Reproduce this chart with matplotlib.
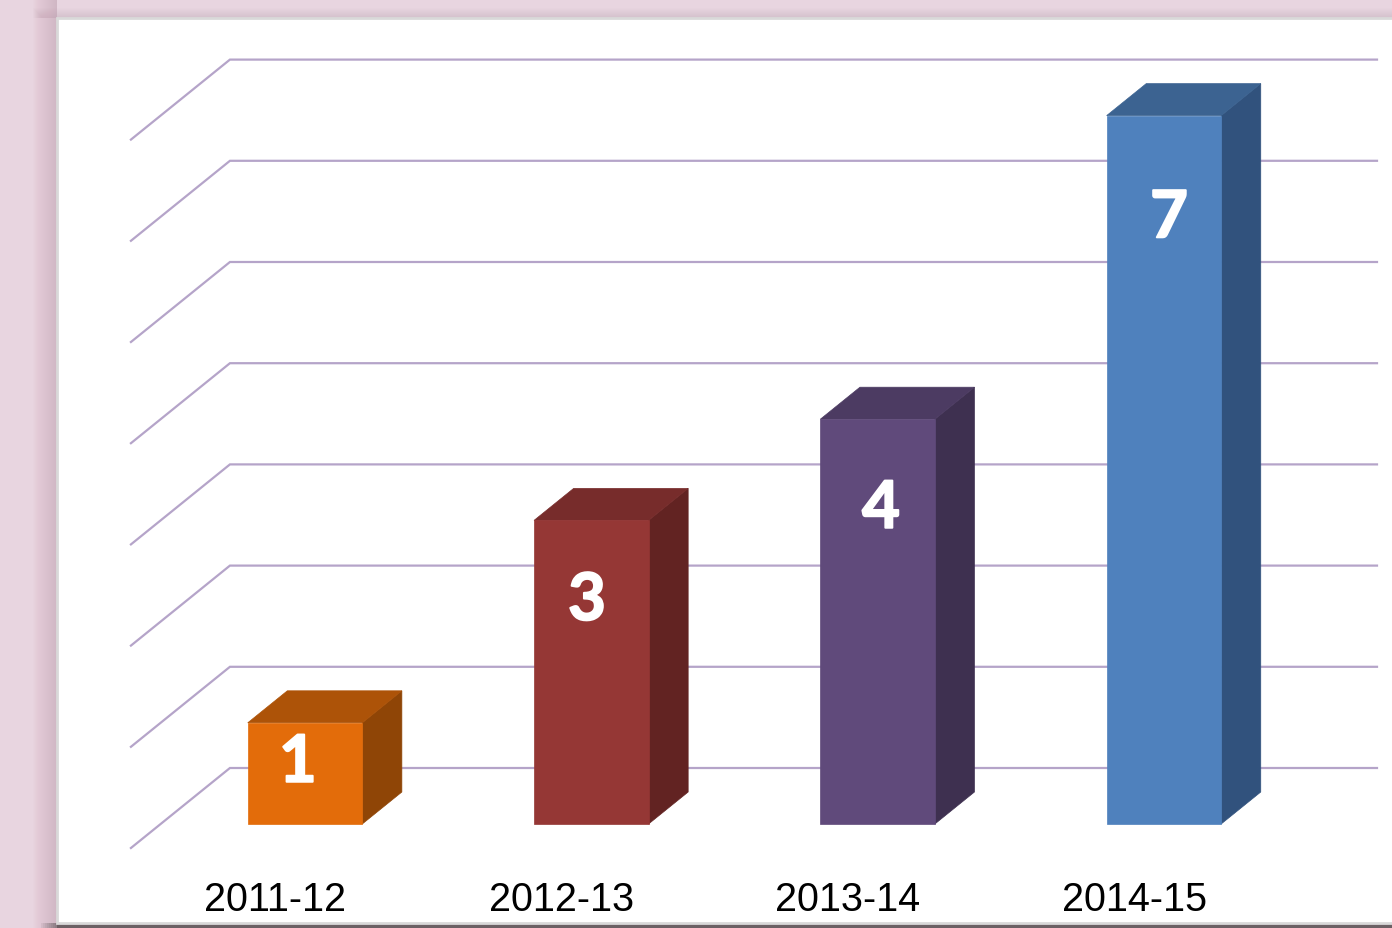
import matplotlib
matplotlib.use("Agg")
import matplotlib.pyplot as plt
import matplotlib.patheffects as pe
from matplotlib.patches import Polygon, Rectangle

# ---- data ----
categories = ["2011-12", "2012-13", "2013-14", "2014-15"]
values = [1, 3, 4, 7]
front_colors = ["#E36C0A", "#953735", "#604A7B", "#4F81BD"]
top_colors = ["#AD5308", "#772C2B", "#4C3B62", "#3C6391"]
side_colors = ["#8F4506", "#622322", "#3E3050", "#31527D"]
label_drop = [0.40, 0.80, 0.89, 1.02]   # label distance below bar top (value units)
label_shift = [-0.025, -0.015, 0.012, 0.018]  # small horizontal nudges (category units)
grid_levels = list(range(0, 8))

W, H, DPI = 1392, 929, 100
fig = plt.figure(figsize=(W / DPI, H / DPI), dpi=DPI)
fig.patch.set_facecolor("#E8D5E0")

# ---- decoration axes (pixel coordinates) ----
deco = fig.add_axes([0, 0, 1, 1])
deco.set_xlim(0, W)
deco.set_ylim(H, 0)
deco.axis("off")
# soft shadow left of and above the panel
n = 24
for i in range(n):
    deco.add_patch(Rectangle((57 - n + i, 0), n - i, H, facecolor="#b796a6",
                             alpha=0.018, edgecolor="none", zorder=1))
for i in range(10):
    deco.add_patch(Rectangle((57 - n + i, 19 - 10 + i), W, 10 - i, facecolor="#b796a6",
                             alpha=0.03, edgecolor="none", zorder=1))
# bottom dark strip
deco.add_patch(Rectangle((57, 924), W, 10, facecolor="#6B6064", edgecolor="none", zorder=2))
for i in range(8):
    deco.add_patch(Rectangle((41 + i * 2, 924), 2, 10, facecolor="#6B6064",
                             alpha=0.1 + 0.08 * i, edgecolor="none", zorder=2))
# white panel with grey border
deco.add_patch(Rectangle((57, 19), W, 905, facecolor="white", edgecolor="#D9D9D9",
                         linewidth=2.0, zorder=3))

# ---- chart axes (value units) ----
px_unit_y = 101.2
px_unit_x = 286.3
base_py = 825.0
first_px = 305.0
ax = fig.add_axes([0, 0, 1, 1])
ax.set_xlim(-first_px / px_unit_x, (W - first_px) / px_unit_x)
ax.set_ylim((base_py - H) / px_unit_y, base_py / px_unit_y)
ax.axis("off")
ax.patch.set_alpha(0)

DX = 99 / px_unit_x    # full depth shift in x (value units)
DY = 80 / px_unit_y    # full depth shift in y (value units)
Z_FLOOR = -0.3
Z_WALL = 0.7
Z_BAR = 0.4
HALF = 0.2
x_right = (1377 - first_px) / px_unit_x
grid_color = "#B5A4C9"


def proj(x, y, z):
    return (x + z * DX, y + z * DY)


for g in grid_levels:
    p0 = proj(-0.608 - Z_FLOOR * DX, g, Z_FLOOR)
    p1 = proj(-0.608 - Z_FLOOR * DX, g, Z_WALL)
    ax.plot([p0[0], p1[0], x_right], [p0[1], p1[1], p1[1]], color=grid_color,
            lw=1.6, solid_joinstyle="miter", zorder=4)

bold_fx = [pe.withStroke(linewidth=1.4, foreground="white", joinstyle="round")]
for i, (v, fc, tc, sc) in enumerate(zip(values, front_colors, top_colors, side_colors)):
    xl, xr = i - HALF, i + HALF
    front = [proj(xl, 0, 0), proj(xr, 0, 0), proj(xr, v, 0), proj(xl, v, 0)]
    side = [proj(xr, 0, 0), proj(xr, 0, Z_BAR), proj(xr, v, Z_BAR), proj(xr, v, 0)]
    top = [proj(xl, v, 0), proj(xr, v, 0), proj(xr, v, Z_BAR), proj(xl, v, Z_BAR)]
    ax.add_patch(Polygon(side, closed=True, facecolor=sc, edgecolor=sc, lw=0.5, zorder=5))
    ax.add_patch(Polygon(top, closed=True, facecolor=tc, edgecolor=tc, lw=0.5, zorder=5))
    ax.add_patch(Polygon(front, closed=True, facecolor=fc, edgecolor=fc, lw=0.5, zorder=6))
    ax.text(i + label_shift[i], v - label_drop[i], str(v), ha="center", va="center",
            color="white", fontsize=47, fontweight="bold", path_effects=bold_fx,
            family=["Lato", "DejaVu Sans"], zorder=7)
    lx, ly = proj(i, -0.745, Z_FLOOR)
    ax.text(lx, -0.745, categories[i], ha="center", va="center", color="black",
            fontsize=28.5, family=["Liberation Sans", "DejaVu Sans"], zorder=7)

fig.savefig("out.png", dpi=DPI, facecolor=fig.get_facecolor())
